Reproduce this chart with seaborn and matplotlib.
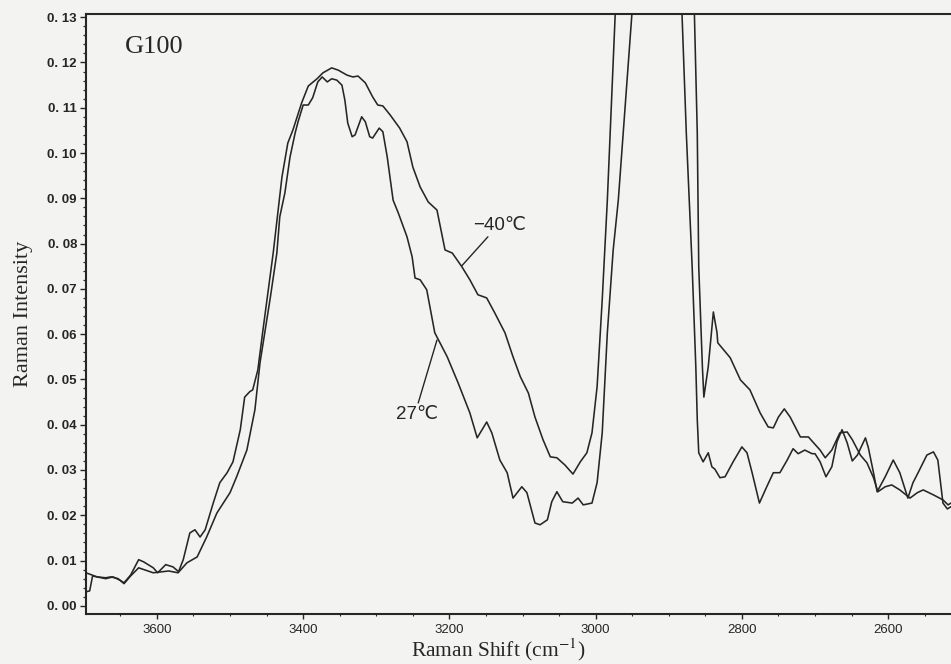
import numpy as np
import pandas as pd
import matplotlib
matplotlib.use("Agg")
import matplotlib.pyplot as plt
from matplotlib.ticker import MultipleLocator, FixedLocator
import seaborn as sns

# Raman shift (cm^-1) and intensity for the -40 C spectrum
wn_cold = [3697, 3692, 3688, 3682, 3670, 3663, 3653, 3645, 3636, 3625, 3605, 3584, 3571,
           3564, 3555, 3548, 3541, 3534, 3523, 3514, 3504, 3496, 3486, 3480, 3473, 3469,
           3462, 3455, 3441, 3429, 3421, 3414, 3402, 3393, 3381, 3373, 3361, 3352, 3340,
           3332, 3325, 3315, 3305, 3298, 3291, 3281, 3268, 3258, 3250, 3240, 3229, 3217,
           3206, 3196, 3183, 3172, 3161, 3149, 3138, 3124, 3113, 3103, 3092, 3083, 3072,
           3062, 3053, 3042, 3031, 3021, 3012, 3005, 2998, 2991, 2984, 2973, 2920, 2865,
           2861, 2859, 2854, 2852, 2846, 2839, 2834, 2833, 2816, 2802, 2789, 2775, 2764,
           2757, 2750, 2742, 2734, 2720, 2709, 2703, 2693, 2686, 2677, 2666, 2656, 2649,
           2638, 2629, 2620, 2614, 2604, 2595, 2584, 2570, 2560, 2552, 2538, 2525, 2518, 2514]
int_cold = [0.0031, 0.0033, 0.0066, 0.0064, 0.0062, 0.0064, 0.0060, 0.0049, 0.0066, 0.0084,
            0.0073, 0.0077, 0.0073, 0.0102, 0.0161, 0.0168, 0.0152, 0.0168, 0.0227, 0.0272,
            0.0294, 0.0318, 0.0389, 0.0461, 0.0473, 0.0477, 0.0521, 0.0609, 0.0779, 0.0947,
            0.1022, 0.1051, 0.1111, 0.1148, 0.1164, 0.1177, 0.1188, 0.1183, 0.1172, 0.1168,
            0.1170, 0.1155, 0.1124, 0.1106, 0.1104, 0.1084, 0.1055, 0.1025, 0.0969, 0.0925,
            0.0892, 0.0874, 0.0786, 0.0779, 0.0749, 0.0720, 0.0687, 0.0680, 0.0647, 0.0603,
            0.0550, 0.0506, 0.0470, 0.0417, 0.0367, 0.0329, 0.0327, 0.0311, 0.0291, 0.0318,
            0.0338, 0.0382, 0.0484, 0.0676, 0.0896, 0.1316, 0.4000, 0.1312, 0.1044, 0.0749,
            0.0528, 0.0461, 0.0528, 0.0649, 0.0603, 0.0581, 0.0548, 0.0499, 0.0477, 0.0426,
            0.0395, 0.0393, 0.0417, 0.0435, 0.0417, 0.0373, 0.0373, 0.0362, 0.0344, 0.0327,
            0.0344, 0.0382, 0.0384, 0.0367, 0.0333, 0.0316, 0.0283, 0.0252, 0.0263, 0.0267,
            0.0256, 0.0238, 0.0250, 0.0256, 0.0245, 0.0234, 0.0223, 0.0227]

# Raman shift (cm^-1) and intensity for the 27 C spectrum
wn_warm = [3697, 3682, 3670, 3660, 3651, 3645, 3636, 3625, 3618, 3605, 3599, 3588, 3578,
           3570, 3559, 3545, 3532, 3518, 3500, 3491, 3477, 3466, 3459, 3452, 3445, 3436,
           3432, 3425, 3418, 3411, 3407, 3400, 3393, 3387, 3380, 3374, 3367, 3361, 3354,
           3347, 3343, 3339, 3333, 3329, 3320, 3315, 3309, 3305, 3296, 3291, 3285, 3277,
           3270, 3263, 3258, 3251, 3247, 3240, 3231, 3220, 3203, 3188, 3172, 3162, 3149,
           3142, 3131, 3121, 3113, 3101, 3094, 3083, 3076, 3066, 3060, 3053, 3045, 3032,
           3024, 3017, 3005, 2998, 2991, 2984, 2976, 2969, 2950, 2915, 2882, 2876, 2868,
           2863, 2861, 2859, 2853, 2846, 2841, 2837, 2830, 2823, 2812, 2800, 2793, 2786,
           2776, 2766, 2757, 2748, 2738, 2730, 2723, 2714, 2704, 2700, 2693, 2685, 2677,
           2670, 2663, 2656, 2649, 2642, 2631, 2627, 2620, 2615, 2604, 2593, 2584, 2573,
           2566, 2559, 2547, 2538, 2532, 2525, 2519, 2514]
int_warm = [0.0073, 0.0064, 0.0060, 0.0064, 0.0057, 0.0051, 0.0068, 0.0102, 0.0097, 0.0084,
            0.0073, 0.0091, 0.0086, 0.0075, 0.0095, 0.0108, 0.0152, 0.0205, 0.0250, 0.0285,
            0.0344, 0.0433, 0.0537, 0.0609, 0.0680, 0.0779, 0.0859, 0.0912, 0.0991, 0.1044,
            0.1069, 0.1106, 0.1106, 0.1122, 0.1157, 0.1168, 0.1157, 0.1164, 0.1161, 0.1150,
            0.1117, 0.1066, 0.1036, 0.1040, 0.1080, 0.1069, 0.1036, 0.1033, 0.1055, 0.1047,
            0.0991, 0.0896, 0.0868, 0.0837, 0.0815, 0.0771, 0.0724, 0.0720, 0.0698, 0.0603,
            0.0550, 0.0492, 0.0426, 0.0371, 0.0406, 0.0382, 0.0322, 0.0294, 0.0238, 0.0263,
            0.0250, 0.0183, 0.0179, 0.0190, 0.0230, 0.0252, 0.0230, 0.0227, 0.0238, 0.0223,
            0.0227, 0.0272, 0.0382, 0.0603, 0.0786, 0.0896, 0.1316, 0.4000, 0.1312, 0.1044,
            0.0749, 0.0528, 0.0411, 0.0338, 0.0318, 0.0338, 0.0307, 0.0302, 0.0283, 0.0285,
            0.0318, 0.0351, 0.0338, 0.0294, 0.0227, 0.0263, 0.0294, 0.0294, 0.0322, 0.0347,
            0.0336, 0.0344, 0.0336, 0.0336, 0.0318, 0.0285, 0.0307, 0.0362, 0.0389, 0.0360,
            0.0320, 0.0333, 0.0371, 0.0349, 0.0294, 0.0252, 0.0285, 0.0322, 0.0294, 0.0238,
            0.0272, 0.0294, 0.0333, 0.0340, 0.0322, 0.0227, 0.0214, 0.0219]

y_ticks = [0.00, 0.01, 0.02, 0.03, 0.04, 0.05, 0.06, 0.07, 0.08, 0.09, 0.10, 0.11, 0.12, 0.13]
y_tick_labels = ["0. 00", "0. 01", "0. 02", "0. 03", "0. 04", "0. 05", "0. 06",
                 "0. 07", "0. 08", "0. 09", "0. 10", "0. 11", "0. 12", "0. 13"]
x_ticks = [3600, 3400, 3200, 3000, 2800, 2600]

df = pd.concat([
    pd.DataFrame({"shift": wn_cold, "intensity": int_cold, "temp": "-40"}),
    pd.DataFrame({"shift": wn_warm, "intensity": int_warm, "temp": "27"}),
], ignore_index=True)

paper = "#f3f3f1"
ink = "#262626"

sns.set_style("ticks")
plt.rcParams["font.family"] = ["Liberation Sans", "DejaVu Sans"]
plt.rcParams["mathtext.fontset"] = "stix"

fig = plt.figure(figsize=(9.51, 6.64), dpi=100, facecolor=paper)
ax = fig.add_axes([86 / 951, 50 / 664, 865 / 951, 600 / 664])
ax.set_facecolor(paper)

sns.lineplot(data=df, x="shift", y="intensity", units="temp", estimator=None,
             sort=False, color=ink, linewidth=1.15, ax=ax, legend=False)
for line in ax.get_lines():
    line.set_solid_joinstyle("round")

ax.set_xlim(3697, 2514)
ax.set_ylim(-0.0018, 0.1307)

ax.yaxis.set_major_locator(FixedLocator(y_ticks))
ax.set_yticklabels(y_tick_labels, fontsize=9.5, fontweight="bold", color=ink)
ax.yaxis.set_minor_locator(MultipleLocator(0.002))
ax.xaxis.set_major_locator(FixedLocator(x_ticks))
ax.set_xticklabels([str(t) for t in x_ticks], fontsize=9.5, color=ink)
ax.xaxis.set_minor_locator(MultipleLocator(50))

ax.tick_params(axis="y", which="major", direction="out", length=4.5, width=1.0,
               pad=2, color=ink)
ax.tick_params(axis="y", which="minor", direction="out", length=2.5, width=0.9, color=ink)
ax.tick_params(axis="x", which="major", direction="out", length=3.5, width=1.0,
               pad=4, color=ink)
ax.tick_params(axis="x", which="minor", direction="out", length=1.5, width=0.8, color=ink)

for side in ["left", "bottom", "top"]:
    ax.spines[side].set_linewidth(1.5)
    ax.spines[side].set_color(ink)
ax.spines["right"].set_visible(False)

ax.set_xlabel(r"Raman Shift (cm$^{-1}$)", family="Liberation Serif", fontsize=15.5, color=ink)
ax.xaxis.set_label_coords((498 - 86) / 865, (614 - 656) / 600)
ax.xaxis.label.set_va("baseline")
ax.set_ylabel("Raman Intensity", family="Liberation Serif", fontsize=16, color=ink)
ax.yaxis.set_label_coords((33 - 86) / 865, 0.5)

ax.text(0.045, 0.945, "G100", transform=ax.transAxes, family="Liberation Serif",
        fontsize=19, color=ink, ha="left", va="center")

ax.annotate("\u221240\u2103", xy=(3183, 0.0751), xytext=(3131, 0.0841),
            ha="center", va="center", fontsize=13.5, color=ink,
            family=["Liberation Sans", "DejaVu Sans"],
            arrowprops=dict(arrowstyle="-", color=ink, lw=1.0, shrinkA=0, shrinkB=0,
                            relpos=(0.33, 0.0)))
ax.annotate("27\u2103", xy=(3217, 0.0587), xytext=(3244, 0.0422),
            ha="center", va="center", fontsize=13.5, color=ink,
            family=["Liberation Sans", "DejaVu Sans"],
            arrowprops=dict(arrowstyle="-", color=ink, lw=1.0, shrinkA=0, shrinkB=0,
                            relpos=(0.5, 1.0)))

fig.savefig("out.png", dpi=100, facecolor=paper)
